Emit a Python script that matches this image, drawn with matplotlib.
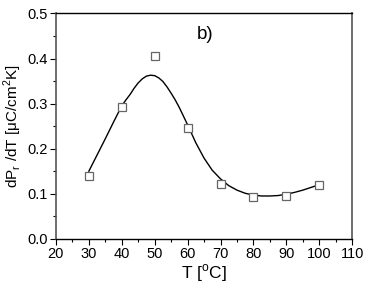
import matplotlib
matplotlib.use("Agg")
import matplotlib.pyplot as plt
from matplotlib.ticker import MultipleLocator

plt.rcParams["font.family"] = ["Liberation Sans", "DejaVu Sans"]
plt.rcParams["mathtext.fontset"] = "custom"
plt.rcParams["mathtext.rm"] = "Liberation Sans"

# measured points
temp = [30, 40, 50, 60, 70, 80, 90, 100]
dpr_dt = [0.139, 0.293, 0.405, 0.246, 0.121, 0.093, 0.096, 0.119]

# fitted curve
fit_t = [30, 32.5, 35, 37.5, 40, 41.25, 42.5, 43.75, 45, 46.25, 47.5, 48.75,
         50, 51.25, 52.5, 53.75, 55, 56.25, 57.5, 58.75, 60, 62.5, 65, 67.5,
         70, 72.5, 75, 77.5, 80, 82.5, 85, 87.5, 90, 92.5, 95, 97.5, 100]
fit_y = [0.150, 0.186, 0.222, 0.259, 0.295, 0.308, 0.320, 0.334, 0.346,
         0.355, 0.361, 0.363, 0.362, 0.357, 0.349, 0.337, 0.323, 0.308,
         0.291, 0.272, 0.253, 0.213, 0.179, 0.152, 0.133, 0.118, 0.108,
         0.101, 0.097, 0.095, 0.095, 0.096, 0.099, 0.103, 0.108, 0.114,
         0.120]

fig = plt.figure(figsize=(3.68, 2.86), dpi=100)
ax = fig.add_axes([0.152, 0.165, 0.805, 0.788])

ax.plot(fit_t, fit_y, color="black", lw=1.0, solid_joinstyle="round")
ax.plot(temp, dpr_dt, ls="none", marker="s", ms=5.5, mfc="white",
        mec="#666666", mew=0.9)

ax.set_xlim(20, 110)
ax.set_ylim(0.0, 0.5)
ax.xaxis.set_major_locator(MultipleLocator(10))
ax.xaxis.set_minor_locator(MultipleLocator(5))
ax.yaxis.set_major_locator(MultipleLocator(0.1))
ax.yaxis.set_minor_locator(MultipleLocator(0.05))
ax.yaxis.set_major_formatter(plt.FormatStrFormatter("%.1f"))
ax.tick_params(which="both", direction="out", top=False, right=False,
               labelsize=10.5, pad=2)
ax.tick_params(which="major", length=4, width=0.8)
ax.tick_params(which="minor", length=2.5, width=0.8)

for side in ["left", "right"]:
    ax.spines[side].set_color("#555555")
    ax.spines[side].set_linewidth(1.2)
for side in ["top", "bottom"]:
    ax.spines[side].set_linewidth(1.0)

ax.set_xlabel("T [$^\\mathregular{o}$C]", fontsize=12.5, labelpad=1)
ax.set_ylabel("dP$_\\mathregular{r}$ /dT [\u03bcC/cm$^\\mathregular{2}$K]",
              fontsize=11, labelpad=2)
ax.text(0.476, 0.905, "b)", transform=ax.transAxes, fontsize=13.5,
        ha="left", va="center")

fig.savefig("out.png", dpi=100)
